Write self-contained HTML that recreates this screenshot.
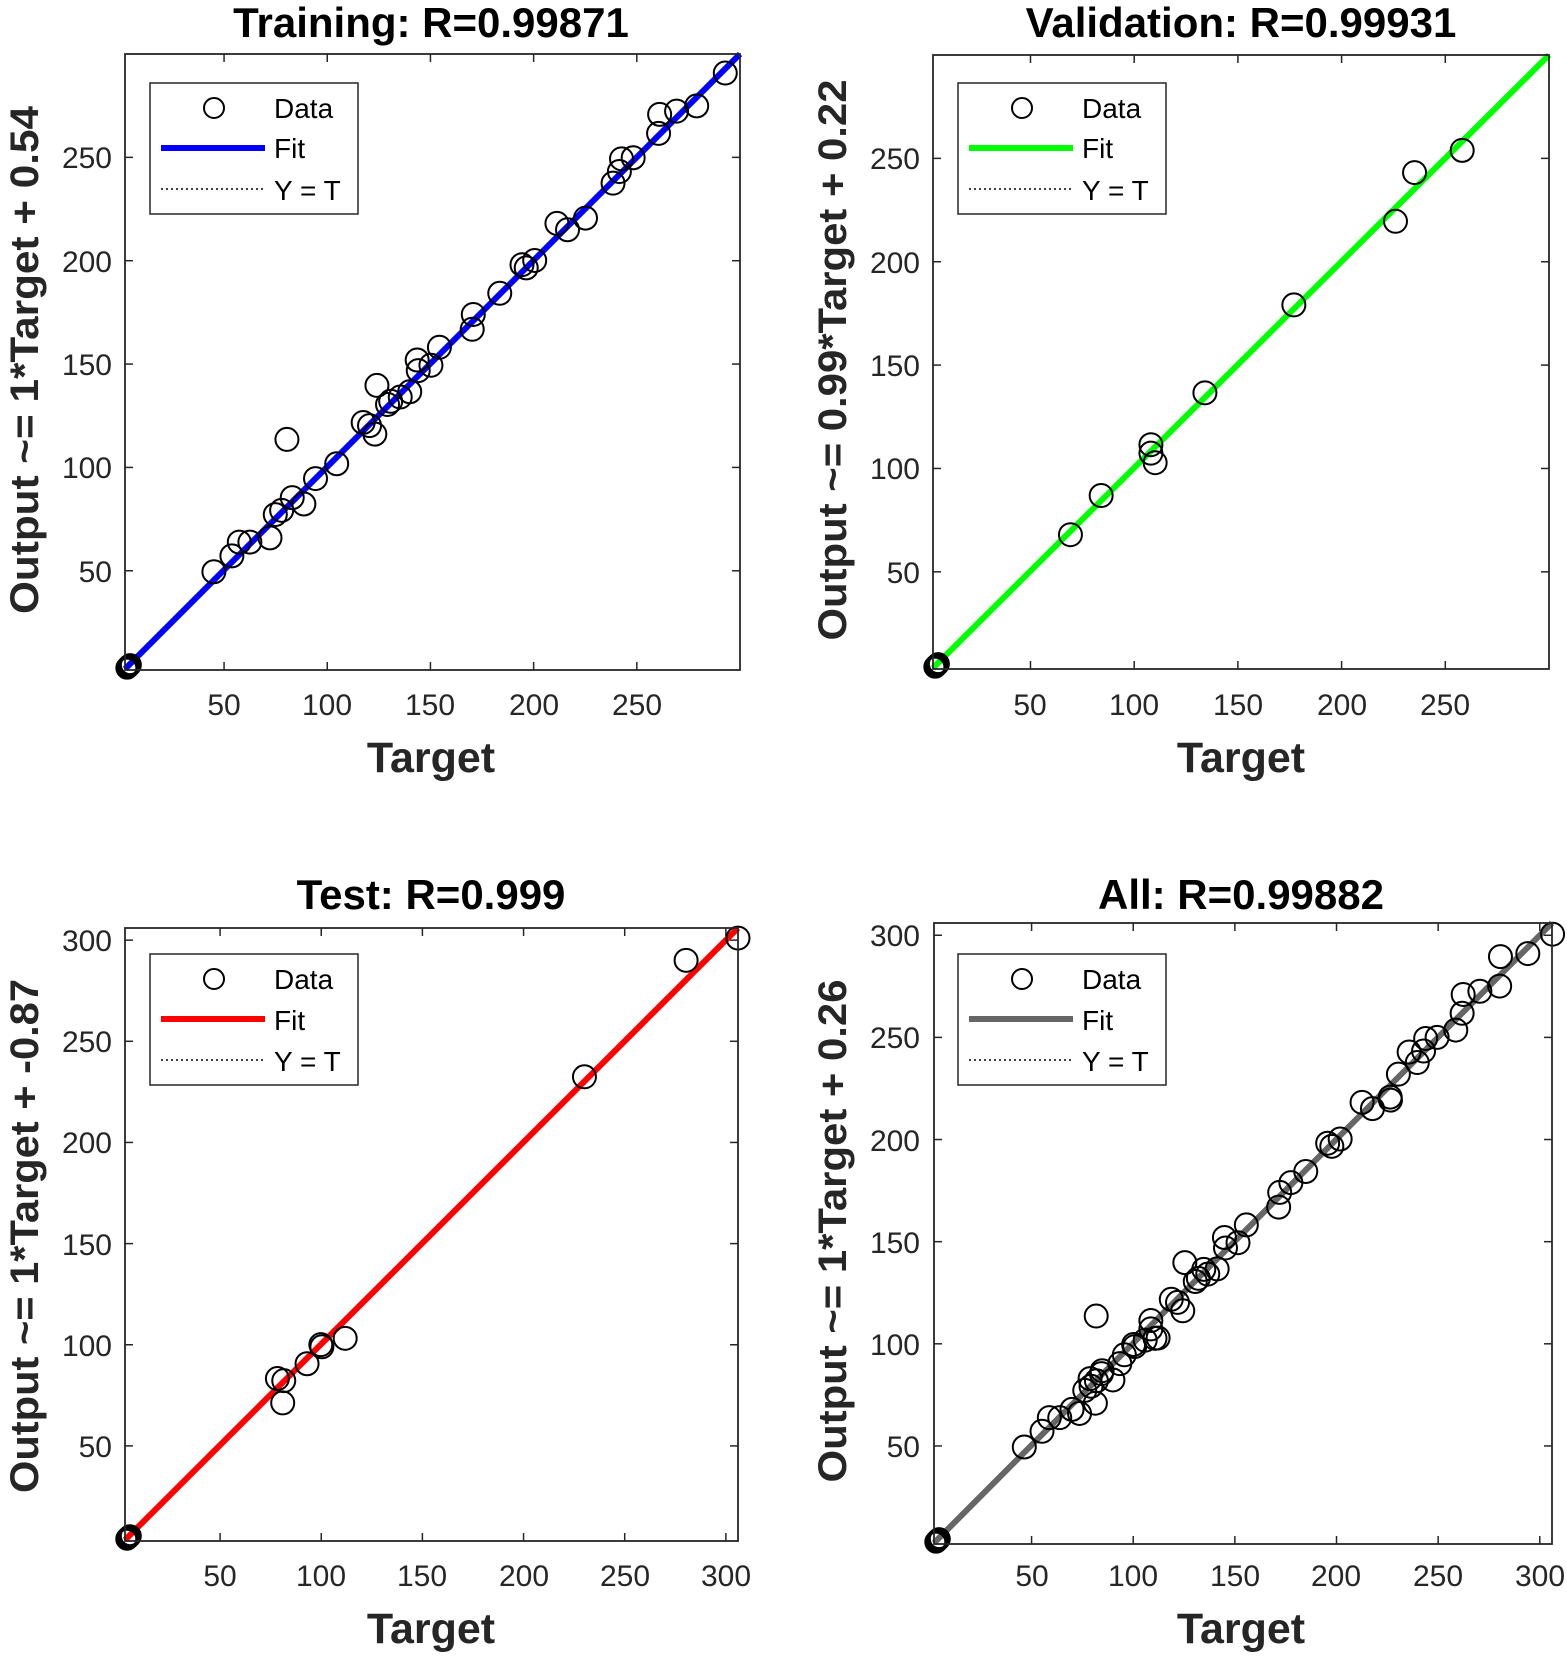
<!DOCTYPE html>
<html><head><meta charset="utf-8"><style>
html,body{margin:0;padding:0;background:#fff;}
svg{display:block;font-family:"Liberation Sans",Arial,sans-serif;}
.t{font-size:30px;fill:#262626;}
.b{font-weight:bold;fill:#000;}
.lab{font-weight:bold;fill:#262626;font-size:43px;}
.ylab{font-weight:bold;fill:#262626;font-size:40px;}
.lg{font-size:28px;fill:#000;}
</style></head><body>
<svg id="s" width="1567" height="1663" viewBox="0 0 1567 1663" xmlns="http://www.w3.org/2000/svg">
<g id="plots"></g>
<!-- Titles -->
<text class="b" x="431" y="37" font-size="42" text-anchor="middle">Training: R=0.99871</text>
<text class="b" x="1241" y="37" font-size="42" text-anchor="middle">Validation: R=0.99931</text>
<text class="b" x="431" y="909" font-size="42" text-anchor="middle">Test: R=0.999</text>
<text class="b" x="1241" y="909" font-size="42" text-anchor="middle">All: R=0.99882</text>
<!-- X labels -->
<text class="lab" x="431" y="772" text-anchor="middle">Target</text>
<text class="lab" x="1241" y="772" text-anchor="middle">Target</text>
<text class="lab" x="431" y="1643" text-anchor="middle">Target</text>
<text class="lab" x="1241" y="1643" text-anchor="middle">Target</text>
<!-- Y labels -->
<text class="ylab" transform="translate(38,360) rotate(-90)" text-anchor="middle" textLength="508" lengthAdjust="spacingAndGlyphs">Output ~= 1*Target + 0.54</text>
<text class="ylab" transform="translate(846,360) rotate(-90)" text-anchor="middle" textLength="561" lengthAdjust="spacingAndGlyphs">Output ~= 0.99*Target + 0.22</text>
<text class="ylab" transform="translate(38,1236) rotate(-90)" text-anchor="middle" textLength="514" lengthAdjust="spacingAndGlyphs">Output ~= 1*Target + -0.87</text>
<text class="ylab" transform="translate(846,1231) rotate(-90)" text-anchor="middle" textLength="503" lengthAdjust="spacingAndGlyphs">Output ~= 1*Target + 0.26</text>
<!-- ticks -->
<g class="t" text-anchor="middle">
<text x="224" y="715">50</text><text x="327" y="715">100</text><text x="430" y="715">150</text><text x="534" y="715">200</text><text x="637" y="715">250</text>
<text x="1030" y="715">50</text><text x="1134" y="715">100</text><text x="1238" y="715">150</text><text x="1342" y="715">200</text><text x="1445" y="715">250</text>
<text x="220" y="1586">50</text><text x="321" y="1586">100</text><text x="422" y="1586">150</text><text x="524" y="1586">200</text><text x="625" y="1586">250</text><text x="726" y="1586">300</text>
<text x="1032" y="1586">50</text><text x="1133" y="1586">100</text><text x="1235" y="1586">150</text><text x="1336" y="1586">200</text><text x="1438" y="1586">250</text><text x="1540" y="1586">300</text>
</g>
<g class="t" text-anchor="end">
<text x="112" y="582">50</text><text x="112" y="478">100</text><text x="112" y="375">150</text><text x="112" y="272">200</text><text x="112" y="168">250</text>
<text x="920" y="583">50</text><text x="920" y="479">100</text><text x="920" y="376">150</text><text x="920" y="273">200</text><text x="920" y="169">250</text>
<text x="112" y="1457">50</text><text x="112" y="1356">100</text><text x="112" y="1255">150</text><text x="112" y="1153">200</text><text x="112" y="1052">250</text><text x="112" y="951">300</text>
<text x="920" y="1457">50</text><text x="920" y="1355">100</text><text x="920" y="1253">150</text><text x="920" y="1151">200</text><text x="920" y="1048">250</text><text x="920" y="946">300</text>
</g>
<!-- Legends -->
<g id="legends"></g>
<g class="lg">
<text x="274" y="118">Data</text><text x="274" y="158">Fit</text><text x="274" y="200">Y = T</text>
<text x="1082" y="118">Data</text><text x="1082" y="158">Fit</text><text x="1082" y="200">Y = T</text>
<text x="274" y="989">Data</text><text x="274" y="1030">Fit</text><text x="274" y="1071">Y = T</text>
<text x="1082" y="989">Data</text><text x="1082" y="1030">Fit</text><text x="1082" y="1071">Y = T</text>
</g>
</svg>
<script>
var NS="http://www.w3.org/2000/svg";
var G=document.getElementById('plots'), LG=document.getElementById('legends');
function el(p,n,a){var e=document.createElementNS(NS,n);for(var k in a)e.setAttribute(k,a[k]);p.appendChild(e);return e;}
var S=1.0588;
var panels=[
 {L:125,R:740,T:54,B:670,min:2,max:300,xt:[50,100,150,200,250],yt:[50,100,150,200,250],col:"#0000ff",lx:150,ly:83},
 {L:933,R:1549,T:55,B:669,min:3,max:300,xt:[50,100,150,200,250],yt:[50,100,150,200,250],col:"#00ff00",lx:958,ly:83},
 {L:125,R:738,T:928,B:1541,min:3,max:306,xt:[50,100,150,200,250,300],yt:[50,100,150,200,250,300],col:"#ff0000",lx:150,ly:954},
 {L:934,R:1552,T:923,B:1544,min:2,max:306,xt:[50,100,150,200,250,300],yt:[50,100,150,200,250,300],col:"#666666",lx:958,ly:954}
];
function X(p,v){return p.L+(v-p.min)*(p.R-p.L)/(p.max-p.min);}
function Y(p,v){return p.B-(v-p.min)*(p.B-p.T)/(p.max-p.min);}
var tr=[[202,540],[219,525],[226,512],[236,512],[255,508],[260,486],[266,482],[271,415],[276,470],[287,476],[298,452],[318,438],[343,399],[349,402],[354,410],[356,364],[366,382],[369,379],[378,375],[387,370],[394,340],[395,350],[407,345],[415,328],[446,311],[447,297],[472,277],[493,250],[497,253],[505,246],[526,211],[536,217],[553,206],[579,173],[585,162],[587,150],[598,149],[622,126],[623,108],[639,105],[658,100],[685,69]];
var va=[[1011,505],[1040,468],[1087,420],[1087,428],[1091,437],[1138,371],[1222,288],[1318,209],[1336,163],[1381,142]];
var te=[[262,1302],[268,1304],[267,1325],[290,1288],[303,1270],[304,1272],[326,1264],[552,1017],[648,907],[697,886]];
var vals=[];
tr.forEach(function(d){vals.push([(d[0]-111.5)/1.95,(636.5-d[1])/1.95]);});
va.forEach(function(d){vals.push([(d[0]-874)/1.96,(637.75-d[1])/1.955]);});
te.forEach(function(d){vals.push([(d[0]-111.4)/1.912,(1460.6-d[1])/1.912]);});
var sets=[tr.map(function(d){return [d[0]*S,d[1]*S];}),va.map(function(d){return [d[0]*S,d[1]*S];}),te.map(function(d){return [d[0]*S,d[1]*S];}),null];
panels.forEach(function(p,i){
  var g=el(G,'g',{});
  p.xt.forEach(function(v){var x=X(p,v);el(g,'line',{x1:x,x2:x,y1:p.B,y2:p.B-8,stroke:'#262626','stroke-width':1.5});el(g,'line',{x1:x,x2:x,y1:p.T,y2:p.T+8,stroke:'#262626','stroke-width':1.5});});
  p.yt.forEach(function(v){var y=Y(p,v);el(g,'line',{x1:p.L,x2:p.L+8,y1:y,y2:y,stroke:'#262626','stroke-width':1.5});el(g,'line',{x1:p.R,x2:p.R-8,y1:y,y2:y,stroke:'#262626','stroke-width':1.5});});
  el(g,'line',{x1:p.L,y1:p.B,x2:p.R,y2:p.T,stroke:'#000','stroke-width':1.5,'stroke-dasharray':'2 3'});
  el(g,'line',{x1:p.L,y1:p.B-1,x2:p.R,y2:p.T,stroke:p.col,'stroke-width':6});
  var pts=sets[i];
  if(!pts){pts=vals.map(function(v){return [X(p,v[0]),Y(p,v[1])];});}
  pts.forEach(function(q){el(g,'circle',{cx:q[0],cy:q[1],r:11.5,fill:'none',stroke:'#000','stroke-width':2});});
  var zx=X(p,p.min+1.5), zy=Y(p,p.min+1.5);
  [[0,0],[2,-2],[-1,1],[1,-1]].forEach(function(o){el(g,'circle',{cx:zx+o[0],cy:zy+o[1],r:10,fill:'none',stroke:'#000','stroke-width':3.5});});
  el(g,'rect',{x:p.L,y:p.T,width:p.R-p.L,height:p.B-p.T,fill:'none',stroke:'#262626','stroke-width':1.8});
  var lx=p.lx, ly=p.ly;
  el(LG,'rect',{x:lx,y:ly,width:208,height:131,fill:'#fff',stroke:'#262626','stroke-width':1.5});
  el(LG,'circle',{cx:lx+64,cy:ly+25,r:10,fill:'none',stroke:'#000','stroke-width':2});
  el(LG,'line',{x1:lx+11,x2:lx+115,y1:ly+65,y2:ly+65,stroke:p.col,'stroke-width':6});
  el(LG,'line',{x1:lx+11,x2:lx+115,y1:ly+106,y2:ly+106,stroke:'#000','stroke-width':1.5,'stroke-dasharray':'2 3'});
});
</script>
</body></html>
